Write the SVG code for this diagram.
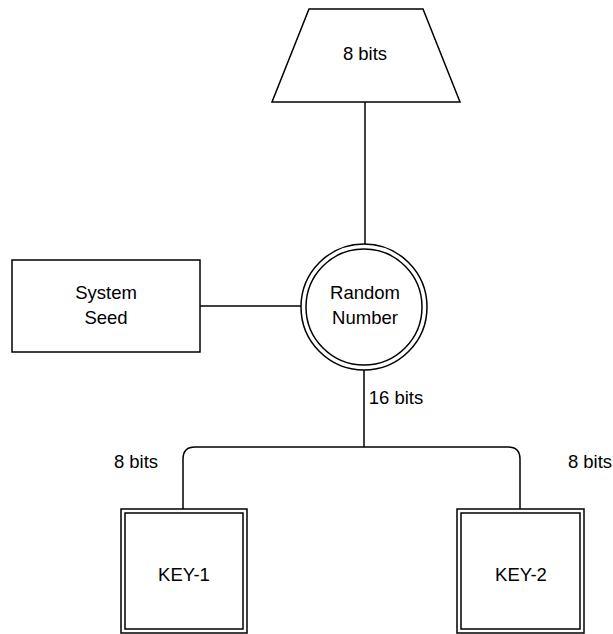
<svg xmlns="http://www.w3.org/2000/svg" width="613" height="634" viewBox="0 0 613 634">
<style>
.s{fill:#fff;stroke:#000;stroke-width:1.5}
.c{fill:none;stroke:#000;stroke-width:1.5}
text{font-family:"Liberation Sans",Arial,sans-serif;font-size:18.5px;fill:#000;text-anchor:middle}
</style>
<rect width="613" height="634" fill="#fff"/>
<g id="connectors">
<line class="c" x1="365" y1="102" x2="365" y2="245"/>
<line class="c" x1="200" y1="306" x2="301" y2="306"/>
<line class="c" x1="364" y1="370" x2="364" y2="447"/>
<path class="c" d="M183,509 V459 Q183,447 195,447 H508 Q520,447 520,459 V509"/>
</g>
<g id="trap">
<polygon class="s" points="309,9 423,9 460,102 272,102"/>
<text x="365" y="60">8 bits</text>
</g>
<g id="random">
<circle class="s" cx="364" cy="307" r="63"/>
<circle class="s" cx="364" cy="307" r="58"/>
<text x="365" y="299">Random</text>
<text x="365" y="324">Number</text>
</g>
<g id="seed">
<rect class="s" x="12" y="260" width="188" height="92"/>
<text x="106" y="299">System</text>
<text x="106" y="324">Seed</text>
</g>
<g id="key1">
<rect class="s" x="121" y="509" width="126" height="124"/>
<rect class="s" x="125" y="513" width="118" height="116"/>
<text x="184" y="581">KEY-1</text>
</g>
<g id="key2">
<rect class="s" x="457" y="509" width="127" height="124"/>
<rect class="s" x="461" y="513" width="119" height="116"/>
<text x="521" y="581">KEY-2</text>
</g>
<g id="labels">
<text x="396" y="404">16 bits</text>
<text x="136" y="468">8 bits</text>
<text x="590" y="468">8 bits</text>
</g>
</svg>
